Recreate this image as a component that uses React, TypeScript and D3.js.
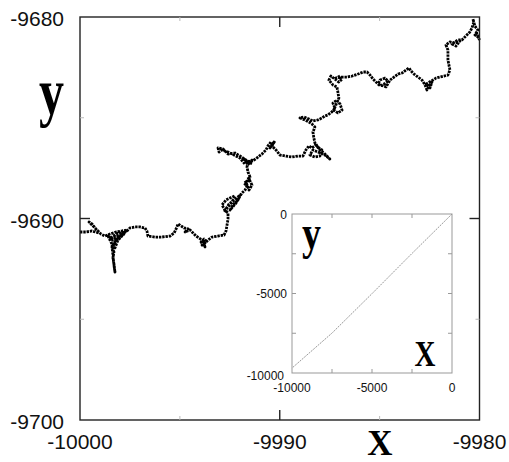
import * as d3 from 'd3';

// main panel
const xTicksMain = [-10000, -9990, -9980];
const yTicksMain = [-9700, -9690, -9680];
const xMinorMain = [-9995, -9985];
const yMinorMain = [-9695, -9685];

// inset panel
const xTicksInset = [-10000, -5000, 0];
const yTicksInset = [-10000, -5000, 0];
const minorInset = [-7500, -2500];

// trajectory (x, y)
const walk: [number, number][] = [
  [-10000.0, -9690.67], [-9999.7, -9690.67], [-9999.4, -9690.62], [-9999.05, -9690.72],
  [-9999.4, -9690.27], [-9999.55, -9690.17], [-9999.25, -9690.47], [-9998.95, -9690.77],
  [-9998.75, -9690.87], [-9998.5, -9690.77], [-9998.2, -9690.67], [-9997.9, -9690.62],
  [-9997.65, -9690.57], [-9998.0, -9690.87], [-9998.35, -9691.07], [-9998.6, -9690.87],
  [-9998.4, -9691.27], [-9998.25, -9691.46], [-9998.1, -9691.07], [-9997.8, -9690.77],
  [-9998.5, -9690.97], [-9998.3, -9690.87], [-9998.1, -9690.72], [-9997.75, -9690.67],
  [-9998.2, -9691.17], [-9998.4, -9691.37], [-9998.3, -9691.66], [-9998.35, -9691.96],
  [-9998.3, -9692.26], [-9998.25, -9692.66], [-9998.3, -9692.31], [-9998.35, -9691.81],
  [-9998.4, -9691.41], [-9998.2, -9691.07], [-9997.95, -9690.82], [-9997.65, -9690.62],
  [-9997.5, -9690.47], [-9997.25, -9690.42], [-9997.0, -9690.42], [-9996.75, -9690.47],
  [-9996.65, -9690.62], [-9996.6, -9690.87], [-9996.25, -9690.92], [-9995.9, -9690.92],
  [-9995.49, -9690.87], [-9995.29, -9690.72], [-9995.19, -9690.52], [-9995.09, -9690.27],
  [-9994.94, -9690.37], [-9994.79, -9690.47], [-9994.59, -9690.52], [-9994.74, -9690.67],
  [-9994.49, -9690.57], [-9994.34, -9690.72], [-9994.19, -9690.87], [-9994.04, -9690.97],
  [-9993.89, -9691.07], [-9993.74, -9691.22], [-9993.89, -9691.32], [-9993.69, -9691.12],
  [-9993.79, -9691.02], [-9993.94, -9691.17], [-9993.74, -9691.41], [-9993.79, -9691.27],
  [-9993.59, -9691.07], [-9993.39, -9690.92], [-9993.09, -9690.87], [-9992.79, -9690.82],
  [-9992.69, -9690.62], [-9992.64, -9690.32], [-9992.59, -9690.03], [-9992.59, -9689.73],
  [-9992.74, -9689.58], [-9992.89, -9689.33], [-9992.69, -9689.08], [-9992.49, -9688.98],
  [-9992.24, -9688.88], [-9992.39, -9689.18], [-9992.59, -9689.43], [-9992.79, -9689.68],
  [-9992.54, -9689.28], [-9992.19, -9689.03], [-9991.99, -9688.83], [-9992.09, -9689.08],
  [-9992.34, -9689.33], [-9992.49, -9689.58], [-9992.19, -9689.23], [-9991.89, -9688.73],
  [-9991.74, -9688.59], [-9991.64, -9688.39], [-9991.79, -9688.24], [-9991.49, -9688.09],
  [-9991.59, -9687.94], [-9991.39, -9688.34], [-9991.54, -9688.59], [-9991.69, -9688.19],
  [-9991.49, -9687.94], [-9991.59, -9687.69], [-9991.64, -9687.44], [-9991.59, -9687.2],
  [-9991.79, -9687.05], [-9991.49, -9687.35], [-9991.39, -9687.1], [-9991.74, -9687.3],
  [-9991.99, -9687.0], [-9992.29, -9686.85], [-9992.59, -9686.7], [-9992.89, -9686.6],
  [-9993.04, -9686.7], [-9993.09, -9686.5], [-9992.84, -9686.55], [-9992.59, -9686.8],
  [-9992.24, -9686.75], [-9991.99, -9686.9], [-9991.69, -9687.1], [-9991.49, -9687.2],
  [-9991.29, -9687.1], [-9991.09, -9686.95], [-9990.89, -9686.8], [-9990.69, -9686.6],
  [-9990.59, -9686.4], [-9990.44, -9686.2], [-9990.34, -9686.3], [-9990.49, -9686.5],
  [-9990.24, -9686.15], [-9990.39, -9686.4], [-9990.19, -9686.6], [-9989.99, -9686.85],
  [-9989.69, -9686.9], [-9989.39, -9686.95], [-9989.09, -9686.9], [-9988.84, -9686.9],
  [-9988.69, -9686.6], [-9988.54, -9686.4], [-9988.39, -9686.5], [-9988.19, -9686.35],
  [-9987.99, -9686.6], [-9987.79, -9686.75], [-9987.59, -9686.95], [-9987.49, -9687.05],
  [-9987.74, -9686.85], [-9988.09, -9686.7], [-9988.34, -9686.6], [-9988.49, -9686.85],
  [-9988.24, -9686.95], [-9987.99, -9686.9], [-9987.89, -9686.6], [-9988.09, -9686.45],
  [-9988.24, -9686.25], [-9988.29, -9686.01], [-9988.34, -9685.71], [-9988.24, -9685.46],
  [-9988.39, -9685.31], [-9988.54, -9685.21], [-9988.74, -9685.11], [-9988.99, -9685.01],
  [-9988.79, -9684.96], [-9988.54, -9685.06], [-9988.34, -9685.16], [-9988.09, -9685.11],
  [-9987.89, -9685.01], [-9987.74, -9684.91], [-9987.59, -9684.86], [-9987.39, -9684.71],
  [-9987.24, -9684.52], [-9987.34, -9684.27], [-9987.14, -9684.12], [-9986.98, -9684.32],
  [-9986.88, -9684.62], [-9987.09, -9684.76], [-9987.29, -9684.62], [-9987.19, -9684.37],
  [-9987.04, -9684.02], [-9987.09, -9683.72], [-9987.14, -9683.47], [-9987.34, -9683.37],
  [-9987.54, -9683.13], [-9987.44, -9682.93], [-9987.24, -9683.08], [-9987.04, -9683.23],
  [-9986.88, -9683.08], [-9986.98, -9682.93], [-9987.19, -9683.03], [-9986.88, -9682.98],
  [-9986.63, -9682.98], [-9986.38, -9682.93], [-9986.08, -9682.83], [-9985.83, -9682.73],
  [-9985.63, -9682.73], [-9985.48, -9682.88], [-9985.33, -9683.08], [-9985.18, -9683.23],
  [-9984.98, -9683.42], [-9984.78, -9683.33], [-9984.58, -9683.18], [-9984.73, -9683.03],
  [-9984.98, -9683.13], [-9985.08, -9683.33], [-9984.68, -9683.47], [-9984.48, -9683.13],
  [-9984.28, -9682.98], [-9984.08, -9682.83], [-9983.88, -9682.78], [-9983.68, -9682.63],
  [-9983.53, -9682.53], [-9983.43, -9682.68], [-9983.28, -9682.83], [-9983.08, -9682.98],
  [-9982.88, -9683.13], [-9982.73, -9683.37], [-9982.63, -9683.62], [-9982.53, -9683.42],
  [-9982.38, -9683.23], [-9982.48, -9683.52], [-9982.68, -9683.33], [-9982.33, -9683.13],
  [-9982.18, -9683.03], [-9981.98, -9682.98], [-9981.78, -9682.93], [-9981.58, -9682.88],
  [-9981.48, -9682.63], [-9981.53, -9682.38], [-9981.58, -9682.13], [-9981.58, -9681.89],
  [-9981.58, -9681.64], [-9981.68, -9681.39], [-9981.48, -9681.24], [-9981.23, -9681.29],
  [-9980.98, -9681.19], [-9981.18, -9681.44], [-9981.38, -9681.34], [-9981.08, -9681.14],
  [-9980.88, -9681.14], [-9980.68, -9680.94], [-9980.48, -9680.74], [-9980.38, -9680.55],
  [-9980.28, -9680.25], [-9980.33, -9680.1], [-9980.23, -9680.45], [-9980.08, -9680.65],
  [-9980.23, -9680.89], [-9980.03, -9681.04], [-9980.18, -9680.74], [-9980.0, -9681.14],
];

// full trajectory shown in the inset
const insetWalk: [number, number][] = [
  [0, 0], [-2500, -2480], [-5000, -5010], [-7500, -7490], [-10000, -9690],
];

const W = 509;
const H = 462;
const numFont = '"Liberation Sans", Arial, sans-serif';
const serif = '"Liberation Serif", "Times New Roman", serif';

export default function App() {
  const x = d3.scaleLinear().domain([-10000, -9980]).range([80, 479.5]);
  const y = d3.scaleLinear().domain([-9700, -9680]).range([420, 17]);
  const xi = d3.scaleLinear().domain([-10000, 0]).range([292, 452]);
  const yi = d3.scaleLinear().domain([-10000, 0]).range([373, 214]);

  const line = d3.line<[number, number]>().x((d) => x(d[0])).y((d) => y(d[1]));
  const lineInset = d3.line<[number, number]>().x((d) => xi(d[0])).y((d) => yi(d[1]));

  const [x0, x1] = x.range();
  const [y0, y1] = y.range();
  const [xi0, xi1] = xi.range();
  const [yi0, yi1] = yi.range();

  return (
    <svg width={W} height={H} style={{ position: 'absolute', left: 0, top: 0, background: '#fff' }}>
      {/* trajectory */}
      <path d={line(walk) || ''} fill="none" stroke="#000" strokeWidth={2.8} strokeDasharray="2.4 0.9" strokeLinejoin="round" />

      {/* main frame */}
      <rect x={x0} y={y1} width={x1 - x0} height={y0 - y1} fill="none" stroke="#222" strokeWidth={1.4} />

      {xTicksMain.slice(1, -1).map((t) => (
        <g key={'xt' + t}>
          <line x1={x(t)} x2={x(t)} y1={y0} y2={y0 - 10} stroke="#222" strokeWidth={1.4} />
          <line x1={x(t)} x2={x(t)} y1={y1} y2={y1 + 10} stroke="#222" strokeWidth={1.4} />
        </g>
      ))}
      {yTicksMain.slice(1, -1).map((t) => (
        <g key={'yt' + t}>
          <line x1={x0} x2={x0 + 10} y1={y(t)} y2={y(t)} stroke="#222" strokeWidth={1.4} />
          <line x1={x1} x2={x1 - 10} y1={y(t)} y2={y(t)} stroke="#222" strokeWidth={1.4} />
        </g>
      ))}
      {xMinorMain.map((t) => (
        <g key={'xm' + t}>
          <line x1={x(t)} x2={x(t)} y1={y0} y2={y0 - 4} stroke="#bbb" strokeWidth={1} />
          <line x1={x(t)} x2={x(t)} y1={y1} y2={y1 + 4} stroke="#bbb" strokeWidth={1} />
        </g>
      ))}
      {yMinorMain.map((t) => (
        <g key={'ym' + t}>
          <line x1={x0} x2={x0 + 4} y1={y(t)} y2={y(t)} stroke="#bbb" strokeWidth={1} />
          <line x1={x1} x2={x1 - 4} y1={y(t)} y2={y(t)} stroke="#bbb" strokeWidth={1} />
        </g>
      ))}

      {xTicksMain.map((t) => (
        <text key={'xl' + t} x={x(t)} y={449} textAnchor="middle" fontFamily={numFont} fontSize={21} fill="#111">
          {t}
        </text>
      ))}
      {yTicksMain.map((t) => (
        <text key={'yl' + t} x={64} y={y(t) + 9} textAnchor="end" fontFamily={numFont} fontSize={21} fill="#111">
          {t}
        </text>
      ))}

      <text transform="translate(39,114) scale(1,1.3)" fontFamily={serif} fontWeight="bold" fontSize={50} fill="#000">
        y
      </text>
      <text transform="translate(380,455) scale(1,1.05)" textAnchor="middle" fontFamily={serif} fontWeight="bold" fontSize={35} fill="#000">
        X
      </text>

      {/* inset */}
      <rect x={xi0} y={yi1} width={xi1 - xi0} height={yi0 - yi1} fill="#fff" stroke="#999" strokeWidth={1} />
      <path d={lineInset(insetWalk) || ''} fill="none" stroke="#999" strokeWidth={1} strokeDasharray="2 1" />

      {[...xTicksInset.slice(1, -1), ...minorInset].map((t) => (
        <g key={'xit' + t}>
          <line x1={xi(t)} x2={xi(t)} y1={yi0} y2={yi0 - 4} stroke="#999" />
          <line x1={xi(t)} x2={xi(t)} y1={yi1} y2={yi1 + 4} stroke="#999" />
        </g>
      ))}
      {[...yTicksInset.slice(1, -1), ...minorInset].map((t) => (
        <g key={'yit' + t}>
          <line x1={xi0} x2={xi0 + 4} y1={yi(t)} y2={yi(t)} stroke="#999" />
          <line x1={xi1} x2={xi1 - 4} y1={yi(t)} y2={yi(t)} stroke="#999" />
        </g>
      ))}

      {xTicksInset.map((t) => (
        <text key={'xil' + t} x={xi(t)} y={392} textAnchor="middle" fontFamily={numFont} fontSize={12} fill="#111">
          {t}
        </text>
      ))}
      {yTicksInset.map((t) => (
        <text
          key={'yil' + t}
          x={t === -10000 ? 284 : 287}
          y={t === -10000 ? 380 : yi(t) + 4.5}
          textAnchor="end"
          fontFamily={numFont}
          fontSize={12}
          fill="#111"
        >
          {t}
        </text>
      ))}

      <text transform="translate(302,249) scale(1,1.3)" fontFamily={serif} fontWeight="bold" fontSize={38} fill="#000">
        y
      </text>
      <text transform="translate(425,366) scale(1,1.2)" textAnchor="middle" fontFamily={serif} fontWeight="bold" fontSize={29} fill="#000">
        X
      </text>
    </svg>
  );
}
